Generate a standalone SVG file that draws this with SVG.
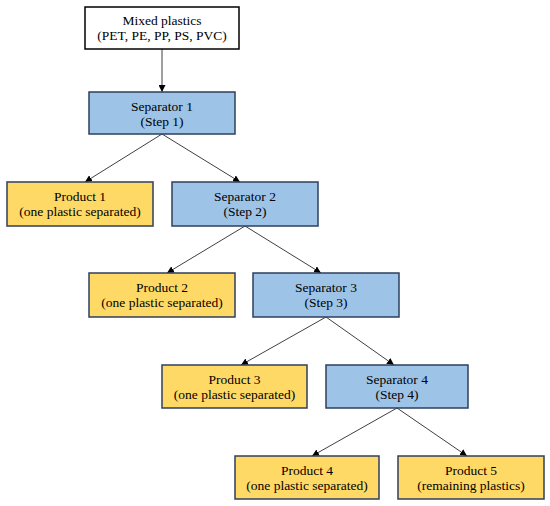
<svg xmlns="http://www.w3.org/2000/svg" width="550" height="506" viewBox="0 0 550 506">
<style>
.box{stroke:#2F3F5F;stroke-width:1.5}
.sep{fill:#9DC3E6}
.prod{fill:#FFD966}
.start{fill:#FFFFFF;stroke:#000000;stroke-width:1.5}
text{font-size:13.5px;fill:#000;text-anchor:middle}
.conn line{stroke:#404040;stroke-width:1}
</style>
<defs>
<marker id="arr" viewBox="0 0 10 10" refX="10" refY="5" markerWidth="7" markerHeight="7" orient="auto" markerUnits="userSpaceOnUse">
<path d="M0,0 L10,5 L0,10 z" fill="#000"/>
</marker>
</defs>
<rect width="550" height="506" fill="#fff"/>
<g class="conn">
<line x1="162" y1="49" x2="162" y2="92" marker-end="url(#arr)"/>
<line x1="162" y1="134" x2="85" y2="182" marker-end="url(#arr)"/>
<line x1="162" y1="134" x2="240" y2="182" marker-end="url(#arr)"/>
<line x1="245" y1="226" x2="167" y2="273" marker-end="url(#arr)"/>
<line x1="245" y1="226" x2="321" y2="273" marker-end="url(#arr)"/>
<line x1="326" y1="317" x2="241" y2="365" marker-end="url(#arr)"/>
<line x1="326" y1="317" x2="394" y2="365" marker-end="url(#arr)"/>
<line x1="397" y1="408" x2="312" y2="456" marker-end="url(#arr)"/>
<line x1="397" y1="408" x2="467" y2="456" marker-end="url(#arr)"/>
</g>
<g font-family="'Liberation Serif', 'Times New Roman', Tinos, 'DejaVu Serif', serif">
<g id="mixed">
<rect class="start" x="85" y="7" width="154" height="42"/>
<text x="162" y="25">Mixed plastics</text>
<text x="162" y="40">(PET, PE, PP, PS, PVC)</text>
</g>
<g id="sep1">
<rect class="box sep" x="89" y="92" width="146" height="42"/>
<text x="162" y="110.5">Separator 1</text>
<text x="162" y="125.5">(Step 1)</text>
</g>
<g id="prod1">
<rect class="box prod" x="7" y="182" width="146" height="44"/>
<text x="80" y="201">Product 1</text>
<text x="80" y="216">(one plastic separated)</text>
</g>
<g id="sep2">
<rect class="box sep" x="172" y="182" width="146" height="44"/>
<text x="245" y="201">Separator 2</text>
<text x="245" y="216">(Step 2)</text>
</g>
<g id="prod2">
<rect class="box prod" x="89" y="273" width="146" height="44"/>
<text x="162" y="292">Product 2</text>
<text x="162" y="307">(one plastic separated)</text>
</g>
<g id="sep3">
<rect class="box sep" x="253" y="273" width="146" height="44"/>
<text x="326" y="292">Separator 3</text>
<text x="326" y="307">(Step 3)</text>
</g>
<g id="prod3">
<rect class="box prod" x="162" y="365" width="145" height="43"/>
<text x="234.5" y="383.5">Product 3</text>
<text x="234.5" y="398.5">(one plastic separated)</text>
</g>
<g id="sep4">
<rect class="box sep" x="326" y="365" width="142" height="43"/>
<text x="397" y="383.5">Separator 4</text>
<text x="397" y="398.5">(Step 4)</text>
</g>
<g id="prod4">
<rect class="box prod" x="235" y="456" width="144" height="43"/>
<text x="307" y="474.5">Product 4</text>
<text x="307" y="489.5">(one plastic separated)</text>
</g>
<g id="prod5">
<rect class="box prod" x="398" y="456" width="146" height="43"/>
<text x="471" y="474.5">Product 5</text>
<text x="471" y="489.5">(remaining plastics)</text>
</g>
</g>
</svg>
